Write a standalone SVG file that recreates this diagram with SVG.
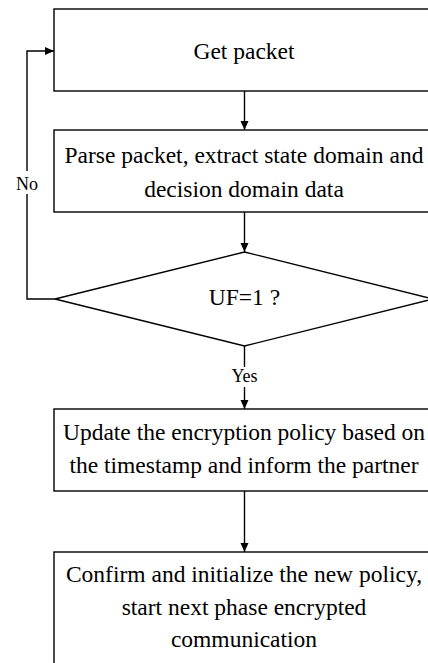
<svg xmlns="http://www.w3.org/2000/svg" width="428" height="663" viewBox="0 0 428 663">
<style>
.box{fill:#fff;stroke:#000;stroke-width:1.4}
.t{font-family:"Liberation Serif","Times New Roman",serif;font-size:23.5px;fill:#000;text-anchor:middle}
.l{font-family:"Liberation Serif","Times New Roman",serif;font-size:18px;fill:#000;text-anchor:middle}
.c{fill:none;stroke:#000;stroke-width:1.4}
</style>
<defs>
<marker id="ah" markerWidth="9" markerHeight="9" viewBox="0 0 9 9" refX="9" refY="4.5" orient="auto" markerUnits="userSpaceOnUse">
<path d="M0,0.5 L9,4.5 L0,8.5 Z" fill="#000"/>
</marker>
</defs>
<rect width="428" height="663" fill="#fff"/>
<g id="connectors">
<line class="c" x1="244.5" y1="91" x2="244.5" y2="130" marker-end="url(#ah)"/>
<line class="c" x1="244.5" y1="212" x2="244.5" y2="252" marker-end="url(#ah)"/>
<line class="c" x1="244.5" y1="346" x2="244.5" y2="409" marker-end="url(#ah)"/>
<line class="c" x1="244.5" y1="491" x2="244.5" y2="552" marker-end="url(#ah)"/>
<polyline class="c" points="55,299 27,299 27,51 54,51" marker-end="url(#ah)"/>
<rect x="16" y="171" width="22" height="23" fill="#fff"/>
<text class="l" x="27" y="190">No</text>
<rect x="229" y="367" width="32" height="20" fill="#fff"/>
<text class="l" x="244.5" y="382">Yes</text>
</g>
<g id="n1">
<rect class="box" x="54" y="9" width="382" height="82"/>
<text class="t" x="244" y="59">Get packet</text>
</g>
<g id="n2">
<rect class="box" x="54" y="130" width="382" height="82"/>
<text class="t" x="244" y="163">Parse packet, extract state domain and</text>
<text class="t" x="244" y="197">decision domain data</text>
</g>
<g id="n3">
<polygon class="box" points="244.5,252 433,299 244.5,346 55,299"/>
<text class="t" x="244.5" y="305">UF=1 ?</text>
</g>
<g id="n4">
<rect class="box" x="54" y="409" width="382" height="82"/>
<text class="t" x="244" y="440">Update the encryption policy based on</text>
<text class="t" x="244" y="473">the timestamp and inform the partner</text>
</g>
<g id="n5">
<rect class="box" x="54" y="552" width="382" height="130"/>
<text class="t" x="244" y="582">Confirm and initialize the new policy,</text>
<text class="t" x="244" y="615">start next phase encrypted</text>
<text class="t" x="244" y="647">communication</text>
</g>
</svg>
